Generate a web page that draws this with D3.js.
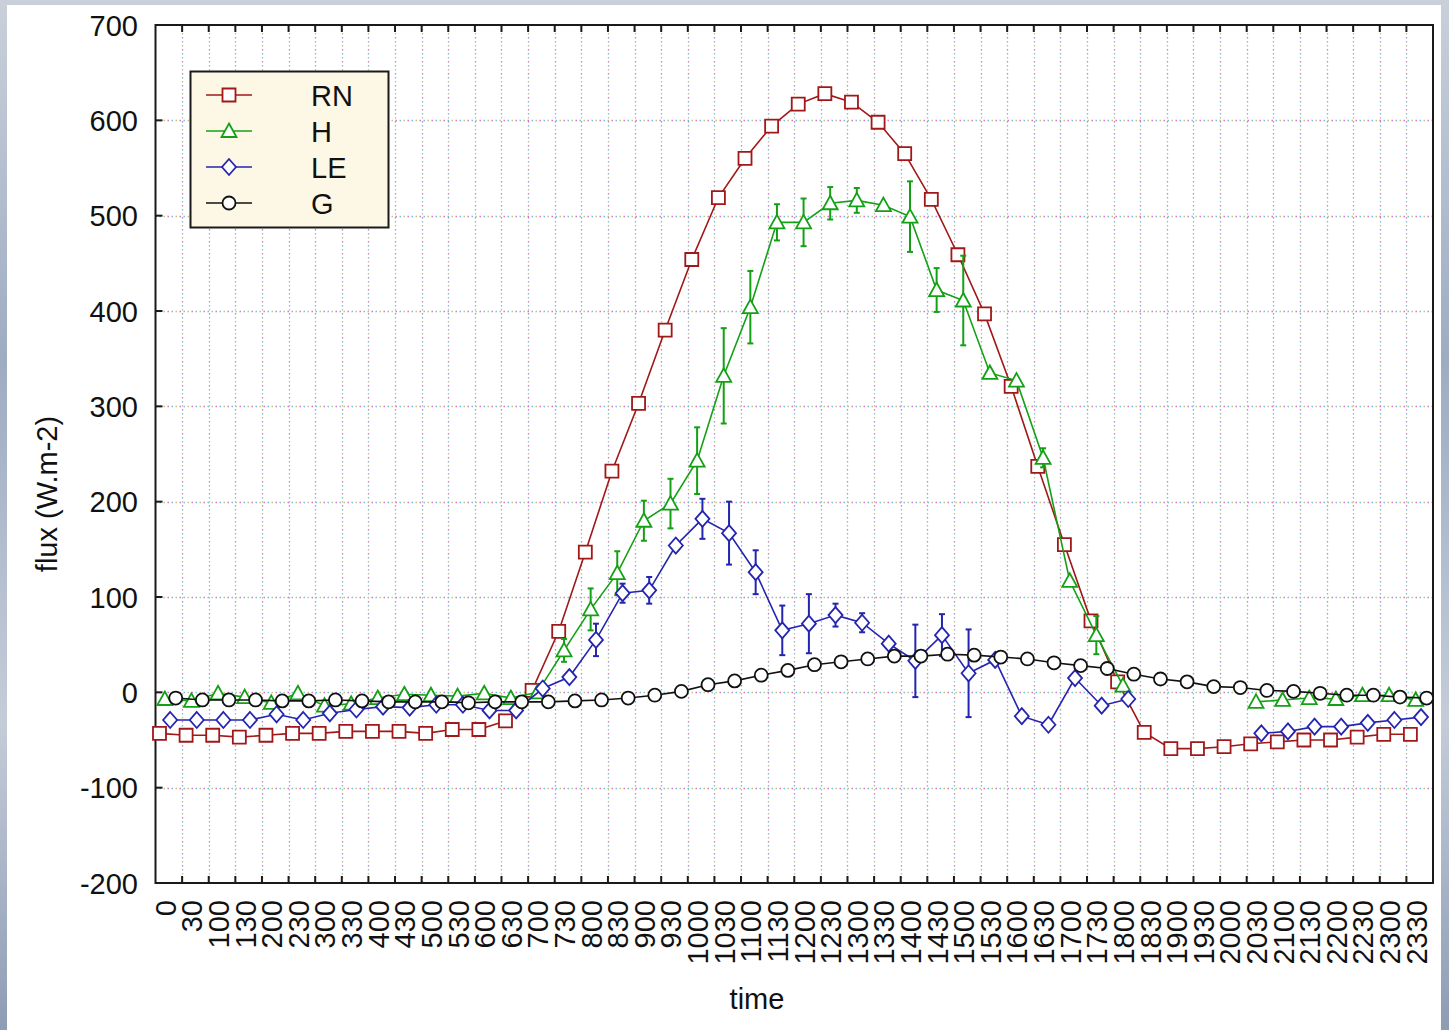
<!DOCTYPE html>
<html>
<head>
<meta charset="utf-8">
<script src="https://cdn.jsdelivr.net/npm/d3@7"></script>
<style>
  html, body { margin: 0; padding: 0; }
  body { width: 1449px; height: 1030px; overflow: hidden; font-family: "Liberation Sans", Arial, sans-serif; }
</style>
</head>
<body>
<svg id="chart" width="1449" height="1030"></svg>
<script>
// half-hourly time labels
const times = ['0', '30', '100', '130', '200', '230', '300', '330', '400', '430', '500', '530',
  '600', '630', '700', '730', '800', '830', '900', '930', '1000', '1030', '1100', '1130',
  '1200', '1230', '1300', '1330', '1400', '1430', '1500', '1530', '1600', '1630', '1700', '1730',
  '1800', '1830', '1900', '1930', '2000', '2030', '2100', '2130', '2200', '2230', '2300', '2330'];

const rn = [-43, -45, -45, -47, -45, -43, -43, -41, -41, -41, -43, -39, -39, -30,
  2, 64, 147, 232, 303, 380, 454, 519, 560, 594, 617, 628, 619, 598, 565, 517, 459, 397, 321, 237, 155, 75, 11,
  -42, -59, -59, -57, -54, -52, -50, -50, -47, -44, -44];

const h = [-7, -9, -1, -5, -11, -1, -14, -12, -6, -2, -3, -4, -1, -6,
  0, 44, 87, 125, 180, 198, 243, 332, 404, 493, 493, 513, 516, 511, 499, 422, 411, 335, 327, 246, 117, 60, 7,
  null, null, null, null, -10, -8, -6, -7, -3, -3, -8];
const hErr = [null, null, null, null, null, null, null, null, null, null, null, null, null, null,
  null, 12, 22, 23, 21, 26, 35, 50, 38, 19, 25, 17, 13, null, 37, 23, 47, null, null, 10, null, 20, null,
  null, null, null, null, null, null, null, null, null, null, null];

const le = [-29, -29, -29, -29, -23, -29, -22, -18, -15, -16, -13, -13, -19, -19,
  4, 16, 55, 104, 107, 154, 182, 167, 126, 65, 72, 81, 73, 51, 33, 60, 20, 34, -25, -34, 15, -14, -7,
  null, null, null, null, -43, -41, -36, -36, -32, -29, -26];
const leErr = [null, null, null, null, null, null, null, null, null, null, null, null, null, null,
  null, null, 17, 10, 14, 5, 21, 33, 23, 26, 31, 12, 10, null, 38, 22, 46, null, null, null, null, null, null,
  null, null, null, null, null, null, null, null, null, null, null];

const g = [-6, -8, -8, -8, -9, -9, -8, -9, -10, -10, -10, -11, -10, -10,
  -10, -9, -8, -6, -3, 1, 8, 12, 18, 23, 29, 32, 35, 38, 38, 40, 39, 37, 35, 31, 28, 25, 19,
  14, 11, 6, 5, 2, 1, -1, -3, -3, -5, -6];

const yTicks = [-200, -100, 0, 100, 200, 300, 400, 500, 600, 700];

const series = [
  { name: 'RN', values: rn, err: null, color: '#a01818', shape: 'square', offset: 0.15 },
  { name: 'H', values: h, err: hErr, color: '#14a014', shape: 'triangle', offset: 0.35 },
  { name: 'LE', values: le, err: leErr, color: '#2424b0', shape: 'diamond', offset: 0.55 },
  { name: 'G', values: g, err: null, color: '#111111', shape: 'circle', offset: 0.76 },
];

const plot = {
  left: 155.5, right: 1433, top: 25, bottom: 883,
};

const svg = d3.select('#chart');

// window-like backdrop
const defs = svg.append('defs');
const grad = defs.append('linearGradient').attr('id', 'bg').attr('x1', 0).attr('y1', 0).attr('x2', 0).attr('y2', 1);
grad.append('stop').attr('offset', '0%').attr('stop-color', '#c9d0da');
grad.append('stop').attr('offset', '35%').attr('stop-color', '#9eacc2');
grad.append('stop').attr('offset', '70%').attr('stop-color', '#c4ccd8');
grad.append('stop').attr('offset', '100%').attr('stop-color', '#8e9cb4');
svg.append('rect').attr('width', 1449).attr('height', 1030).attr('fill', 'url(#bg)');
svg.append('rect').attr('x', 7).attr('y', 5).attr('width', 1434).attr('height', 1025).attr('fill', '#fff');

const x = d3.scaleBand().domain(times).range([plot.left, plot.right]);
const y = d3.scaleLinear().domain([-200, 700]).range([plot.bottom, plot.top]);
const bw = x.bandwidth();

// dotted multicolour grid
const gridColors = ['#d870d8', '#70c4d4', '#c4c480'];
const grid = svg.append('g');
times.slice(1).forEach((t) => {
  const gx = Math.round(x(t)) + 0.5;
  gridColors.forEach((c, k) => {
    grid.append('line')
      .attr('x1', gx).attr('x2', gx)
      .attr('y1', plot.top).attr('y2', plot.bottom)
      .attr('stroke', c)
      .attr('stroke-width', 1.3)
      .attr('stroke-dasharray', '1.5 10.5')
      .attr('stroke-dashoffset', -k * 4 - (k === 0 ? 0 : 0));
  });
});
yTicks.slice(1, -1).forEach((v) => {
  const gy = Math.round(y(v)) + 0.5;
  gridColors.forEach((c, k) => {
    grid.append('line')
      .attr('x1', plot.left).attr('x2', plot.right)
      .attr('y1', gy).attr('y2', gy)
      .attr('stroke', c)
      .attr('stroke-width', 1.3)
      .attr('stroke-dasharray', '1.5 10.5')
      .attr('stroke-dashoffset', -k * 4);
  });
});

// frame
svg.append('rect')
  .attr('x', plot.left).attr('y', plot.top)
  .attr('width', plot.right - plot.left).attr('height', plot.bottom - plot.top)
  .attr('fill', 'none').attr('stroke', '#1a1a1a').attr('stroke-width', 2);

// y axis: inner ticks and labels
const yAxis = svg.append('g');
yTicks.forEach((v) => {
  yAxis.append('line')
    .attr('x1', plot.left).attr('x2', plot.left + 7)
    .attr('y1', y(v)).attr('y2', y(v))
    .attr('stroke', '#1a1a1a').attr('stroke-width', 2);
  yAxis.append('text')
    .attr('x', 138).attr('y', y(v) + 10.5)
    .attr('text-anchor', 'end')
    .attr('font-size', 29)
    .attr('fill', '#111')
    .text(v);
});

// x axis ticks top and bottom at band edges
const xAxis = svg.append('g');
times.slice(1).forEach((t) => {
  const tx = x(t);
  xAxis.append('line').attr('x1', tx).attr('x2', tx).attr('y1', plot.bottom).attr('y2', plot.bottom - 7)
    .attr('stroke', '#1a1a1a').attr('stroke-width', 2);
  xAxis.append('line').attr('x1', tx).attr('x2', tx).attr('y1', plot.top).attr('y2', plot.top + 7)
    .attr('stroke', '#1a1a1a').attr('stroke-width', 2);
});
times.forEach((t) => {
  xAxis.append('text')
    .attr('transform', `translate(${x(t) + bw / 2 + 7},900) rotate(-90)`)
    .attr('text-anchor', 'end')
    .attr('font-size', 29)
    .attr('fill', '#111')
    .text(t);
});

// axis titles
svg.append('text')
  .attr('x', 757).attr('y', 1009)
  .attr('text-anchor', 'middle')
  .attr('font-size', 29)
  .attr('fill', '#111')
  .text('time');
svg.append('text')
  .attr('transform', 'translate(57,494) rotate(-90)')
  .attr('text-anchor', 'middle')
  .attr('font-size', 29)
  .attr('fill', '#111')
  .text('flux (W.m-2)');

// marker shapes
const markerPath = (shape) => {
  switch (shape) {
    case 'square': return 'M-6.5,-6.5H6.5V6.5H-6.5Z';
    case 'triangle': return 'M0,-7.5L7.5,6L-7.5,6Z';
    case 'diamond': return 'M0,-8L7,0L0,8L-7,0Z';
    default: return d3.arc()({
      innerRadius: 0, outerRadius: 6.5, startAngle: 0, endAngle: 2 * Math.PI,
    });
  }
};

const data = svg.append('g');
series.forEach((s) => {
  const px = (i) => x(times[i]) + bw * s.offset;
  const pts = s.values.map((v, i) => ({ i, v, e: s.err ? s.err[i] : null }));

  const line = d3.line()
    .defined((d) => d.v !== null)
    .x((d) => px(d.i))
    .y((d) => y(d.v));

  const grp = data.append('g');
  grp.append('path')
    .datum(pts)
    .attr('d', line)
    .attr('fill', 'none')
    .attr('stroke', s.color)
    .attr('stroke-width', 1.6);

  // error bars
  pts.filter((d) => d.v !== null && d.e !== null).forEach((d) => {
    const cx = px(d.i);
    const y1 = y(d.v + d.e);
    const y2 = y(d.v - d.e);
    grp.append('line').attr('x1', cx).attr('x2', cx).attr('y1', y1).attr('y2', y2)
      .attr('stroke', s.color).attr('stroke-width', 2);
    [y1, y2].forEach((cy) => {
      grp.append('line').attr('x1', cx - 3).attr('x2', cx + 3).attr('y1', cy).attr('y2', cy)
        .attr('stroke', s.color).attr('stroke-width', 2);
    });
  });

  grp.selectAll('.marker')
    .data(pts.filter((d) => d.v !== null))
    .enter()
    .append('path')
    .attr('class', 'marker')
    .attr('transform', (d) => `translate(${px(d.i)},${y(d.v)})`)
    .attr('d', markerPath(s.shape))
    .attr('fill', '#fff')
    .attr('stroke', s.color)
    .attr('stroke-width', 1.8);
});

// legend
const legend = svg.append('g');
legend.append('rect')
  .attr('x', 190.5).attr('y', 71.5).attr('width', 198).attr('height', 156)
  .attr('fill', '#fdf8e6').attr('stroke', '#1a1a1a').attr('stroke-width', 2);
series.forEach((s, k) => {
  const ly = 95 + k * 36;
  legend.append('line').attr('x1', 206).attr('x2', 252).attr('y1', ly).attr('y2', ly)
    .attr('stroke', s.color).attr('stroke-width', 1.6);
  legend.append('path')
    .attr('transform', `translate(229,${ly})`)
    .attr('d', markerPath(s.shape))
    .attr('fill', '#fff')
    .attr('stroke', s.color)
    .attr('stroke-width', 1.8);
  legend.append('text')
    .attr('x', 311).attr('y', ly + 11)
    .attr('font-size', 29)
    .attr('fill', '#111')
    .text(s.name);
});
</script>
</body>
</html>
